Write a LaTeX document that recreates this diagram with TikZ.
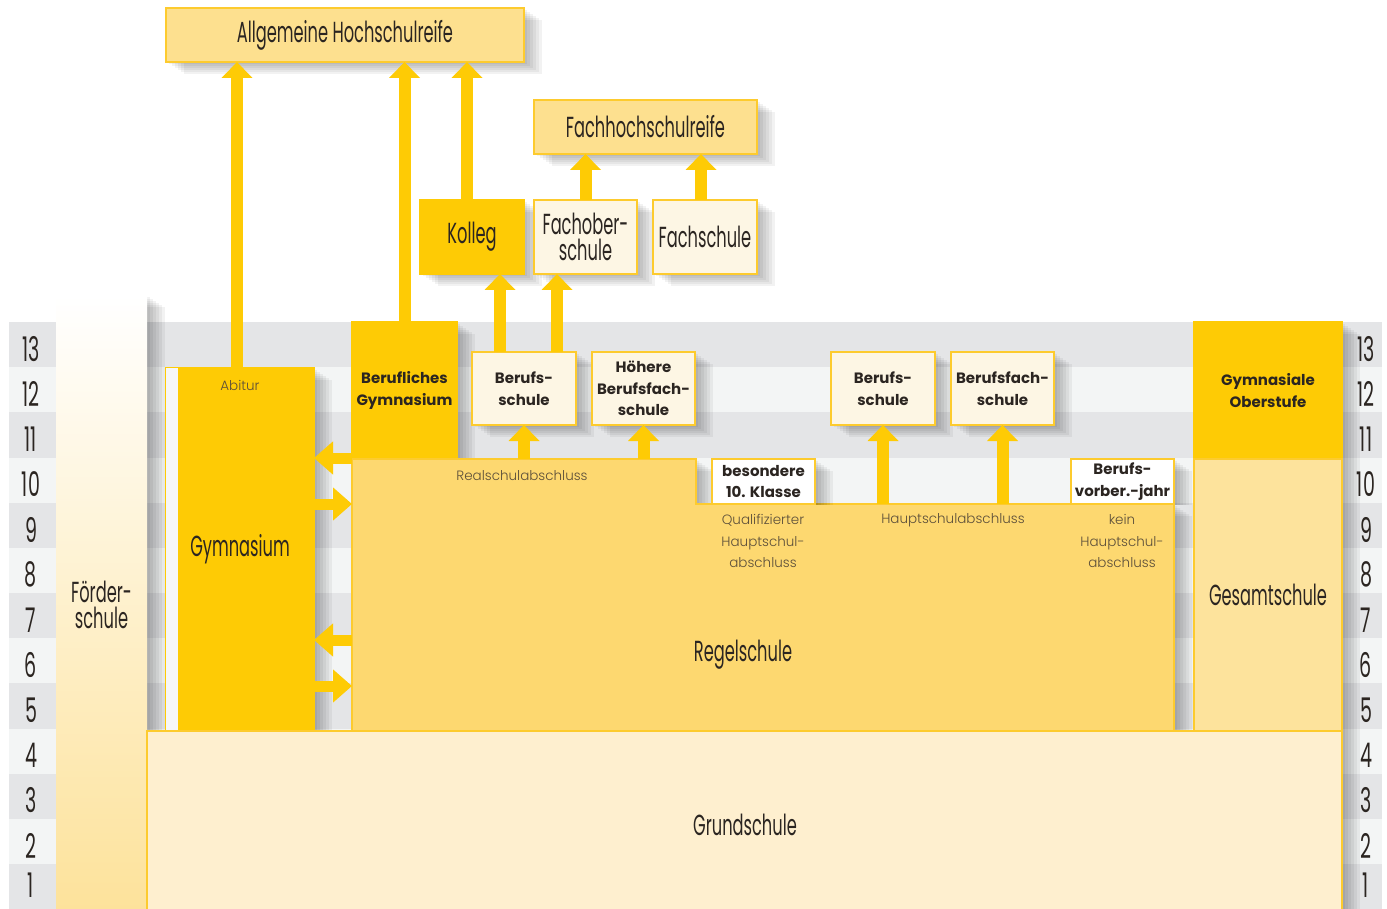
\documentclass[tikz,border=0pt]{standalone}
\usepackage{fontspec}
\setmainfont{Poppins}
\newfontfamily\condFont{Poppins}[FakeStretch=0.56]
\newfontfamily\thinFont{Poppins Light}
\usepackage{xcolor}
\definecolor{textDark}{HTML}{2B2521}
\definecolor{textSoft}{HTML}{5C4F3A}
\definecolor{schoolYellow}{HTML}{FECB05}
\definecolor{boxEdge}{HTML}{FDCB2E}
\definecolor{regelFill}{HTML}{FDD870}
\definecolor{reifeFill}{HTML}{FDE08F}
\definecolor{gesamtFill}{HTML}{FDE39C}
\definecolor{grundFill}{HTML}{FEEFCF}
\definecolor{creamFill}{HTML}{FDF6E4}
\definecolor{bandDark}{HTML}{E4E5E7}
\definecolor{bandLight}{HTML}{F3F5F5}
\definecolor{foerderBottom}{HTML}{FDE29A}
\usetikzlibrary{positioning,calc,arrows.meta,shadows}
\tikzset{%
  shadeStep/.style 2 args={%
    general shadow={shadow xshift=#1, shadow yshift=#2,
      fill=black, fill opacity=0.05}
  },
  boxShadow/.style={%
    shadeStep={18pt}{-12pt},
    shadeStep={15pt}{-10pt},
    shadeStep={12pt}{-8pt},
    shadeStep={9pt}{-6pt},
    shadeStep={6pt}{-4pt},
    shadeStep={3pt}{-2pt}
  },
  schoolBox/.style={%
    rectangle,
    anchor=north west,
    inner sep=0pt,
    outer sep=0pt,
    align=center,
    draw=boxEdge,
    line width=1.2pt,
    text=textDark,
    boxShadow
  },
  reifeBox/.style={%
    schoolBox,
    fill=reifeFill,
    font=\condFont\fontsize{29}{26}\selectfont
  },
  strongBox/.style={%
    schoolBox,
    fill=schoolYellow,
    draw=schoolYellow
  },
  creamBox/.style={%
    schoolBox,
    fill=creamFill
  },
  condText/.style={font=\condFont\fontsize{29}{26.5}\selectfont},
  boldText/.style={font=\bfseries\fontsize{15}{21.5}\selectfont},
  thinText/.style={%
    font=\thinFont\fontsize{13.5}{21.5}\selectfont,
    text=textSoft,
    align=center
  },
  gradeNum/.style={%
    inner sep=0pt,
    font=\condFont\fontsize{34}{34}\selectfont,
    text=textDark
  },
  upArrow/.style={%
    -{Triangle[width=30pt,length=16pt]},
    line width=12pt,
    draw=schoolYellow
  },
  sideArrow/.style={%
    -{Triangle[width=32pt,length=19pt]},
    line width=11pt,
    draw=schoolYellow
  }
}

\begin{document}
\begin{tikzpicture}[x=1pt,y=-1pt]
  \useasboundingbox (0,0) rectangle (1387,909);

  % grade rows
  \foreach \g in {1,...,13}{
    \pgfmathsetmacro\rowTop{322+(13-\g)*45.154}
    \pgfmathsetmacro\numY{\rowTop+ifthenelse(\g==1,21,27)}
    \ifodd\g
      \fill[bandDark] (9,\rowTop) rectangle (1382,\rowTop+45.3);
    \else
      \fill[bandLight] (9,\rowTop) rectangle (1382,\rowTop+45.3);
    \fi
    \node[gradeNum] (left\g) at (31,\numY) {\g};
    \node[gradeNum] (right\g) at (1366,\numY) {\g};
  }

  \node[schoolBox, draw=none, top color=white, bottom color=foerderBottom,
    minimum width=91, minimum height=620, condText] (foerder) at (56,295)
    {F\"order-\\schule};

  % secondary level
  \node[strongBox, minimum width=148, minimum height=363, condText] (gym) at (166,368) {Gymnasium};
  \fill[white!97!black] (166,368) rectangle (178,731);
  \node[thinText] (abitur) at (240,385) {Abitur};
  \node[strongBox, minimum width=105, minimum height=137, boldText] (bgym) at (352,322)
    {Berufliches\\Gymnasium};
  \node[strongBox, minimum width=148, minimum height=137, boldText] (gost) at (1194,322)
    {Gymnasiale\\Oberstufe};
  \node[schoolBox, fill=gesamtFill, minimum width=148, minimum height=272, condText] (gesamt) at (1194,459)
    {Gesamtschule};

  \coordinate (regelTop) at (352,459);
  \coordinate (regelStep) at (696,504);
  \coordinate (regelMid) at (352,640);
  \coordinate (regelLow) at (352,686);
  \fill[regelFill, draw=boxEdge, line width=1.2pt, boxShadow]
    (regelTop) -- (696,459) -- (regelStep) -- (1174,504) -- (1174,731) -- (352,731) -- cycle;
  \node[condText, text=textDark] (regel) at (743,655) {Regelschule};
  \node[thinText] (real) at (522,476) {Realschulabschluss};
  \node[thinText] (quali) at (763,541) {Qualifizierter\\Hauptschul-\\abschluss};
  \node[thinText] (haupt) at (953,520) {Hauptschulabschluss};
  \node[thinText] (kein) at (1122,541) {kein\\Hauptschul-\\abschluss};

  \node[creamBox, minimum width=104, minimum height=73, boldText] (bs1) at (472,352) {Berufs-\\schule};
  \node[creamBox, minimum width=103, minimum height=73, boldText] (hbfs) at (592,352) {H\"ohere\\Berufsfach-\\schule};
  \node[creamBox, minimum width=104, minimum height=73, boldText] (bs2) at (831,352) {Berufs-\\schule};
  \node[creamBox, minimum width=103, minimum height=73, boldText] (bfs) at (951,352) {Berufsfach-\\schule};
  \begin{scope}
    \clip (700,330) rectangle (1193,504.6);
    \node[schoolBox, fill=white, minimum width=103, minimum height=45, boldText] (bes10) at (712,459) {besondere\\10. Klasse};
    \node[schoolBox, fill=white, minimum width=103, minimum height=45, boldText] (bvj) at (1071,459) {Berufs-\\vorber.-jahr};
  \end{scope}

  % primary level
  \node[schoolBox, fill=grundFill, minimum width=1195, minimum height=190, condText] (grund) at (147,731) {};
  \node[condText, text=textDark] (grundLabel) at (745,825) {Grundschule};

  % upper boxes
  \node[reifeBox, minimum width=358, minimum height=54] (allg) at (166,8) {Allgemeine Hochschulreife};
  \node[reifeBox, minimum width=223, minimum height=54] (fhr) at (534,100) {Fachhochschulreife};
  \node[strongBox, minimum width=104, minimum height=74, condText] (kolleg) at (420,200) {Kolleg};
  \node[creamBox, minimum width=103, minimum height=74, condText] (fos) at (534,200) {Fachober-\\schule};
  \node[creamBox, minimum width=104, minimum height=74, condText] (fachschule) at (653,200) {Fachschule};

  % arrows
  \draw[upArrow] ([xshift=-3pt]gym.north) -- ([xshift=-3pt]gym.north |- allg.south);
  \draw[upArrow] (bgym.north) -- (bgym.north |- allg.south);
  \draw[upArrow] ([xshift=-5pt]kolleg.north) -- ([xshift=-5pt]kolleg.north |- allg.south);
  \draw[upArrow] (fos.north) -- (fos.north |- fhr.south);
  \draw[upArrow] ([xshift=-4pt]fachschule.north) -- ([xshift=-4pt]fachschule.north |- fhr.south);
  \draw[upArrow] ([xshift=-24pt]bs1.north) -- ([xshift=-24pt]bs1.north |- kolleg.south);
  \draw[upArrow] ([xshift=33pt]bs1.north) -- ([xshift=33pt]bs1.north |- fos.south);
  \draw[upArrow] (bs1.south |- regelTop) -- (bs1.south);
  \draw[upArrow] (hbfs.south |- regelTop) -- (hbfs.south);
  \draw[upArrow] (bs2.south |- regelStep) -- (bs2.south);
  \draw[upArrow] (bfs.south |- regelStep) -- (bfs.south);

  \draw[sideArrow] ([yshift=1pt]regelTop) -- ([yshift=1pt]regelTop -| gym.east);
  \draw[sideArrow] (gym.east |- regelStep) -- (regelTop |- regelStep);
  \draw[sideArrow] (regelMid) -- (regelMid -| gym.east);
  \draw[sideArrow] (gym.east |- regelLow) -- (regelLow);
\end{tikzpicture}
\end{document}
